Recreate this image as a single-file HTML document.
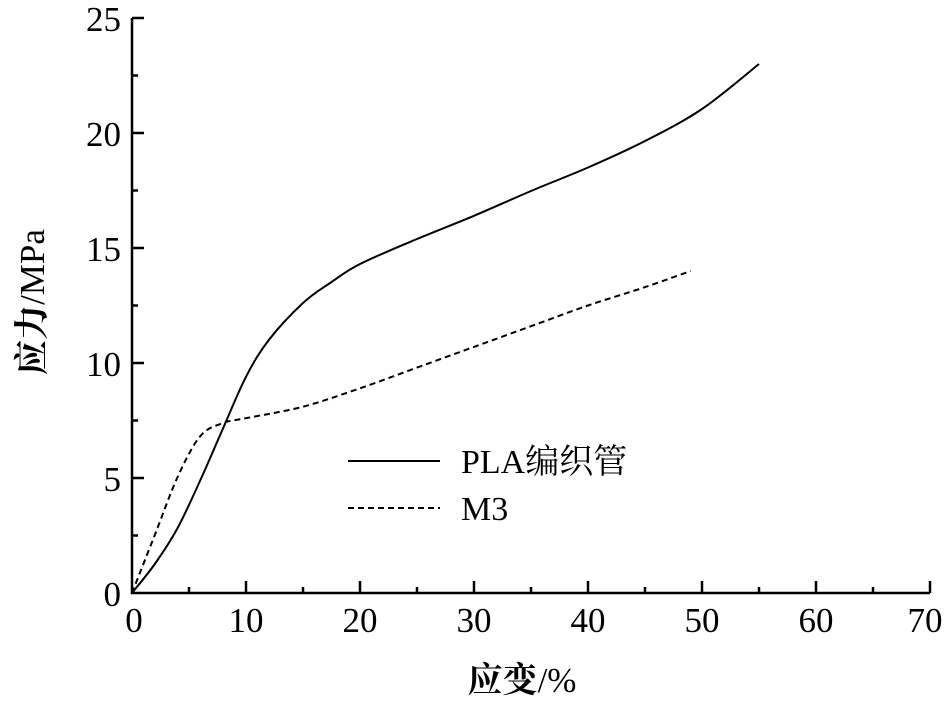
<!DOCTYPE html>
<html><head><meta charset="utf-8"><style>body{margin:0;background:#fff}svg{display:block}text{font-family:"Liberation Serif","Noto Serif CJK SC",serif;fill:#000}</style></head><body>
<svg width="950" height="701" viewBox="0 0 950 701">
<g stroke="#000" stroke-width="2.5" fill="none">
<path d="M132,18V593H930"/>
<path d="M246,593v-12M360,593v-12M474,593v-12M588,593v-12M702,593v-12M816,593v-12M930,593v-12M189,593v-6M303,593v-6M417,593v-6M531,593v-6M645,593v-6M759,593v-6M873,593v-6"/>
<path d="M132,478h12M132,363h12M132,248h12M132,133h12M132,18h12M132,535.5h6M132,420.5h6M132,305.5h6M132,190.5h6M132,75.5h6"/>
</g>
<g stroke="#000" stroke-width="2" fill="none">
<path id="pla" d="M132,593C145,580 175,555 189,512.5S220,410 246,376.8S280,315 303,303.2S340,272 360,264.1S440,230 474,215.8S600,165 645,140S720,100 759,64"/>
<path id="m3" stroke-dasharray="6,4" d="M132,593C145,560 170,490 190,450S210,424 246,418.2S330,400 360,388.3S600,305 690.6,271"/>
<path d="M348,461H440"/>
<path stroke-dasharray="6,4" d="M348,508H440"/>
</g>
<g font-size="35" text-anchor="end">
<text x="121" y="606">0</text><text x="121" y="491">5</text><text x="121" y="376">10</text><text x="121" y="261">15</text><text x="121" y="146">20</text><text x="121" y="31">25</text>
</g>
<g font-size="35" text-anchor="middle">
<text x="134" y="632">0</text><text x="246" y="632">10</text><text x="360" y="632">20</text><text x="474" y="632">30</text><text x="588" y="632">40</text><text x="702" y="632">50</text><text x="816" y="632">60</text><text x="925" y="632">70</text>
<text x="522" y="692"><tspan font-weight="bold">应变</tspan>/%</text>
<text transform="translate(44,302) rotate(-90)"><tspan font-weight="bold">应力</tspan>/MPa</text>
</g>
<text x="461" y="473" font-size="34">PLA编织管</text>
<text x="461" y="520" font-size="34">M3</text>
</svg>
<script>
function cr(p){var d="M"+p[0][0]+","+p[0][1];for(var i=0;i<p.length-1;i++){var a=p[i-1]||p[i],b=p[i],c=p[i+1],e=p[i+2]||c;d+="C"+(b[0]+(c[0]-a[0])/6).toFixed(1)+","+(b[1]+(c[1]-a[1])/6).toFixed(1)+" "+(c[0]-(e[0]-b[0])/6).toFixed(1)+","+(c[1]-(e[1]-b[1])/6).toFixed(1)+" "+c[0]+","+c[1];}return d;}
var pla=[[132,593],[154.8,564],[177.6,528],[200.4,480],[223.2,428],[246,376.8],[268.8,340],[303,303],[331.5,282],[360,264],[417,239],[474,215.8],[531,191],[588,167.5],[645,141],[702,109],[759,64]];
var m3=[[132,593],[154.8,535],[177.6,477],[200.4,436],[223.2,423],[246,418.2],[303,406.7],[360,388.3],[417,367.6],[474,346.9],[531,326.2],[588,305.5],[645,287.1],[690.6,271]];
document.getElementById("pla").setAttribute("d",cr(pla));
document.getElementById("m3").setAttribute("d",cr(m3));
</script>
</body></html>
